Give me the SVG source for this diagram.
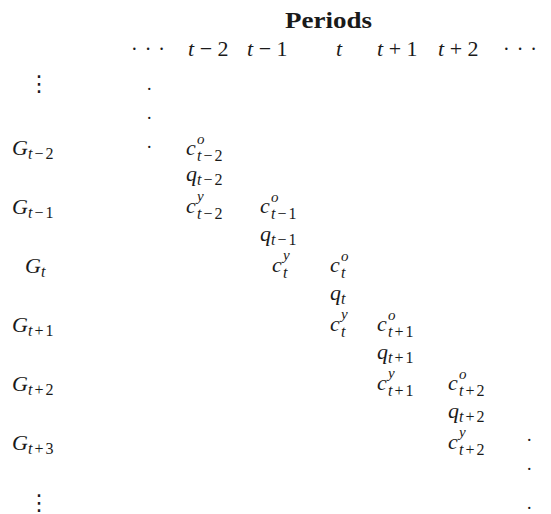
<svg xmlns="http://www.w3.org/2000/svg" width="551" height="514" viewBox="0 0 551 514">
<style>
text{fill:#1a1a1a}
.m{font-size:22px;font-style:italic}
.s{font-size:16px;letter-spacing:2px}
.p{font-size:15px}
.u{font-style:normal}
.d{font-size:18px;font-style:normal}
.b{font-size:24px;font-weight:bold}
.e{font-size:22px}
.h{font-size:20px;letter-spacing:7px}
</style>
<rect width="551" height="514" fill="#fff"/>
<g id="title"><text class="b" font-family="Liberation Serif" x="285" y="28" textLength="87" lengthAdjust="spacingAndGlyphs">Periods</text></g>
<g id="header">
<text class="h" font-family="Liberation Serif" x="131" y="56">···</text>
<text class="m" font-family="Liberation Serif" x="188" y="56">t<tspan class="u"> − 2</tspan></text>
<text class="m" font-family="Liberation Serif" x="247" y="56">t<tspan class="u"> − 1</tspan></text>
<text class="m" font-family="Liberation Serif" x="336" y="56">t</text>
<text class="m" font-family="Liberation Serif" x="377" y="56">t<tspan class="u"> + 1</tspan></text>
<text class="m" font-family="Liberation Serif" x="438" y="56">t<tspan class="u"> + 2</tspan></text>
<text class="h" font-family="Liberation Serif" x="503" y="56">···</text>
</g>
<g id="rowlabels">
<text class="e" x="28" y="91" font-family="DejaVu Sans">⋮</text>
<text class="m" font-family="Liberation Serif" x="12" y="155">G<tspan class="s" x="28" y="159">t<tspan class="u">−2</tspan></tspan></text>
<text class="m" font-family="Liberation Serif" x="12" y="214">G<tspan class="s" x="28" y="218">t<tspan class="u">−1</tspan></tspan></text>
<text class="m" font-family="Liberation Serif" x="25" y="273">G<tspan class="s" x="41" y="277">t</tspan></text>
<text class="m" font-family="Liberation Serif" x="12" y="332">G<tspan class="s" x="28" y="336">t<tspan class="u">+1</tspan></tspan></text>
<text class="m" font-family="Liberation Serif" x="12" y="391">G<tspan class="s" x="28" y="395">t<tspan class="u">+2</tspan></tspan></text>
<text class="m" font-family="Liberation Serif" x="12" y="450">G<tspan class="s" x="28" y="454">t<tspan class="u">+3</tspan></tspan></text>
<text class="e" x="28" y="510" font-family="DejaVu Sans">⋮</text>
</g>
<g id="dots">
<text class="d" font-family="Liberation Serif" x="147" y="90">.</text>
<text class="d" font-family="Liberation Serif" x="147" y="119">.</text>
<text class="d" font-family="Liberation Serif" x="147" y="148">.</text>
<text class="d" font-family="Liberation Serif" x="527" y="441">.</text>
<text class="d" font-family="Liberation Serif" x="527" y="470">.</text>
<text class="d" font-family="Liberation Serif" x="527" y="509">.</text>
</g>
<g id="entries">
<text class="m" font-family="Liberation Serif" x="186" y="155">c<tspan class="p" x="197" y="144">o</tspan><tspan class="s" x="197" y="161">t<tspan class="u">−2</tspan></tspan></text>
<text class="m" font-family="Liberation Serif" x="186" y="181">q<tspan class="s" x="197" y="185">t<tspan class="u">−2</tspan></tspan></text>
<text class="m" font-family="Liberation Serif" x="186" y="213">c<tspan class="p" x="197" y="201">y</tspan><tspan class="s" x="197" y="219">t<tspan class="u">−2</tspan></tspan></text>
<text class="m" font-family="Liberation Serif" x="260" y="213">c<tspan class="p" x="271" y="202">o</tspan><tspan class="s" x="271" y="219">t<tspan class="u">−1</tspan></tspan></text>
<text class="m" font-family="Liberation Serif" x="260" y="241">q<tspan class="s" x="271" y="245">t<tspan class="u">−1</tspan></tspan></text>
<text class="m" font-family="Liberation Serif" x="272" y="272">c<tspan class="p" x="283" y="260">y</tspan><tspan class="s" x="283" y="278">t</tspan></text>
<text class="m" font-family="Liberation Serif" x="330" y="272">c<tspan class="p" x="341" y="261">o</tspan><tspan class="s" x="341" y="278">t</tspan></text>
<text class="m" font-family="Liberation Serif" x="330" y="300">q<tspan class="s" x="341" y="304">t</tspan></text>
<text class="m" font-family="Liberation Serif" x="330" y="331">c<tspan class="p" x="341" y="319">y</tspan><tspan class="s" x="341" y="337">t</tspan></text>
<text class="m" font-family="Liberation Serif" x="377" y="331">c<tspan class="p" x="388" y="320">o</tspan><tspan class="s" x="388" y="337">t<tspan class="u">+1</tspan></tspan></text>
<text class="m" font-family="Liberation Serif" x="377" y="359">q<tspan class="s" x="388" y="363">t<tspan class="u">+1</tspan></tspan></text>
<text class="m" font-family="Liberation Serif" x="377" y="390">c<tspan class="p" x="388" y="378">y</tspan><tspan class="s" x="388" y="396">t<tspan class="u">+1</tspan></tspan></text>
<text class="m" font-family="Liberation Serif" x="448" y="390">c<tspan class="p" x="459" y="379">o</tspan><tspan class="s" x="459" y="396">t<tspan class="u">+2</tspan></tspan></text>
<text class="m" font-family="Liberation Serif" x="448" y="418">q<tspan class="s" x="459" y="422">t<tspan class="u">+2</tspan></tspan></text>
<text class="m" font-family="Liberation Serif" x="448" y="449">c<tspan class="p" x="459" y="437">y</tspan><tspan class="s" x="459" y="455">t<tspan class="u">+2</tspan></tspan></text>
</g>
</svg>
